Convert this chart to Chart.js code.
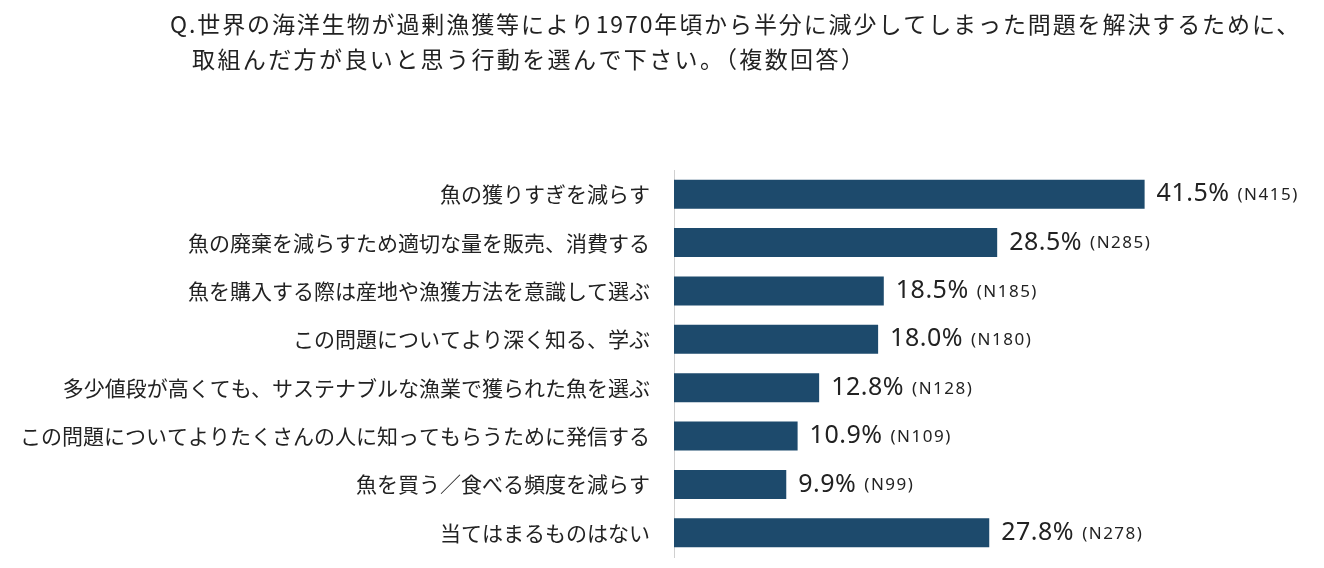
<!DOCTYPE html>
<html>
<head>
<meta charset="utf-8">
<script src="https://cdn.jsdelivr.net/npm/chart.js@4/dist/chart.umd.min.js"></script>
<style>
  html, body { margin: 0; padding: 0; background: #fff; overflow: hidden; }
  #wrap { position: relative; width: 1324px; height: 568px; }
</style>
</head>
<body>
<div id="wrap"><canvas id="fishChart"></canvas></div>
<script>
const titleLines = [
  'Q.世界の海洋生物が過剰漁獲等により1970年頃から半分に減少してしまった問題を解決するために、',
  '取組んだ方が良いと思う行動を選んで下さい。（複数回答）'
]
const categories = [
  '魚の獲りすぎを減らす',
  '魚の廃棄を減らすため適切な量を販売、消費する',
  '魚を購入する際は産地や漁獲方法を意識して選ぶ',
  'この問題についてより深く知る、学ぶ',
  '多少値段が高くても、サステナブルな漁業で獲られた魚を選ぶ',
  'この問題についてよりたくさんの人に知ってもらうために発信する',
  '魚を買う／食べる頻度を減らす',
  '当てはまるものはない'
]
const percents = [41.5, 28.5, 18.5, 18.0, 12.8, 10.9, 9.9, 27.8]
const counts = [415, 285, 185, 180, 128, 109, 99, 278]

const jpFont = '"Noto Sans CJK JP", "Noto Sans", sans-serif'
const numFont = '"Noto Sans", "Noto Sans CJK JP", sans-serif'

const titlePlugin = {
  id: 'titleText',
  afterDraw(chart) {
    const ctx = chart.ctx
    ctx.save()
    ctx.fillStyle = '#222'
    ctx.font = '23px ' + jpFont
    ctx.textBaseline = 'middle'
    ctx.letterSpacing = '1.9px'
    ctx.fillText(titleLines[0], 170, 24)
    ctx.letterSpacing = '2.4px'
    ctx.fillText(titleLines[1], 192, 59)
    ctx.restore()
  }
}

const valuePlugin = {
  id: 'valueLabels',
  afterDatasetsDraw(chart) {
    const ctx = chart.ctx
    const meta = chart.getDatasetMeta(0)
    ctx.save()
    ctx.fillStyle = '#222'
    ctx.textBaseline = 'middle'
    meta.data.forEach((bar, i) => {
      const x = bar.x + 12
      const big = percents[i].toFixed(1) + '%'
      ctx.letterSpacing = '0.5px'
      ctx.font = '25px ' + numFont
      ctx.fillText(big, x, bar.y)
      const w = ctx.measureText(big).width
      ctx.letterSpacing = '1.5px'
      ctx.font = '17px ' + numFont
      ctx.fillText('(N' + counts[i] + ')', x + w + 8, bar.y + 1)
    })
    ctx.restore()
  }
}

const canvas = document.getElementById('fishChart')
const myChart = new Chart(canvas, {
  type: 'bar',
  data: {
    labels: categories,
    datasets: [{
      label: '割合',
      data: percents,
      backgroundColor: '#1d4a6c',
      barPercentage: 0.6,
      categoryPercentage: 1.0
    }]
  },
  options: {
    indexAxis: 'y',
    responsive: true,
    maintainAspectRatio: false,
    animation: false,
    layout: { padding: { top: 170, right: 83, bottom: 11, left: 0 } },
    plugins: {
      legend: { display: false },
      tooltip: { enabled: false }
    },
    scales: {
      x: {
        display: false,
        min: 0,
        max: 50
      },
      y: {
        grid: { display: false },
        border: { display: true, color: '#d0d0d0', width: 1 },
        afterFit(scale) {
          scale.width = 674
          scale.paddingTop = 0
          scale.paddingBottom = 0
        },
        ticks: {
          color: '#222',
          padding: 16,
          font: { family: jpFont, size: 21 }
        }
      }
    }
  },
  plugins: [titlePlugin, valuePlugin]
})
</script>
</body>
</html>
